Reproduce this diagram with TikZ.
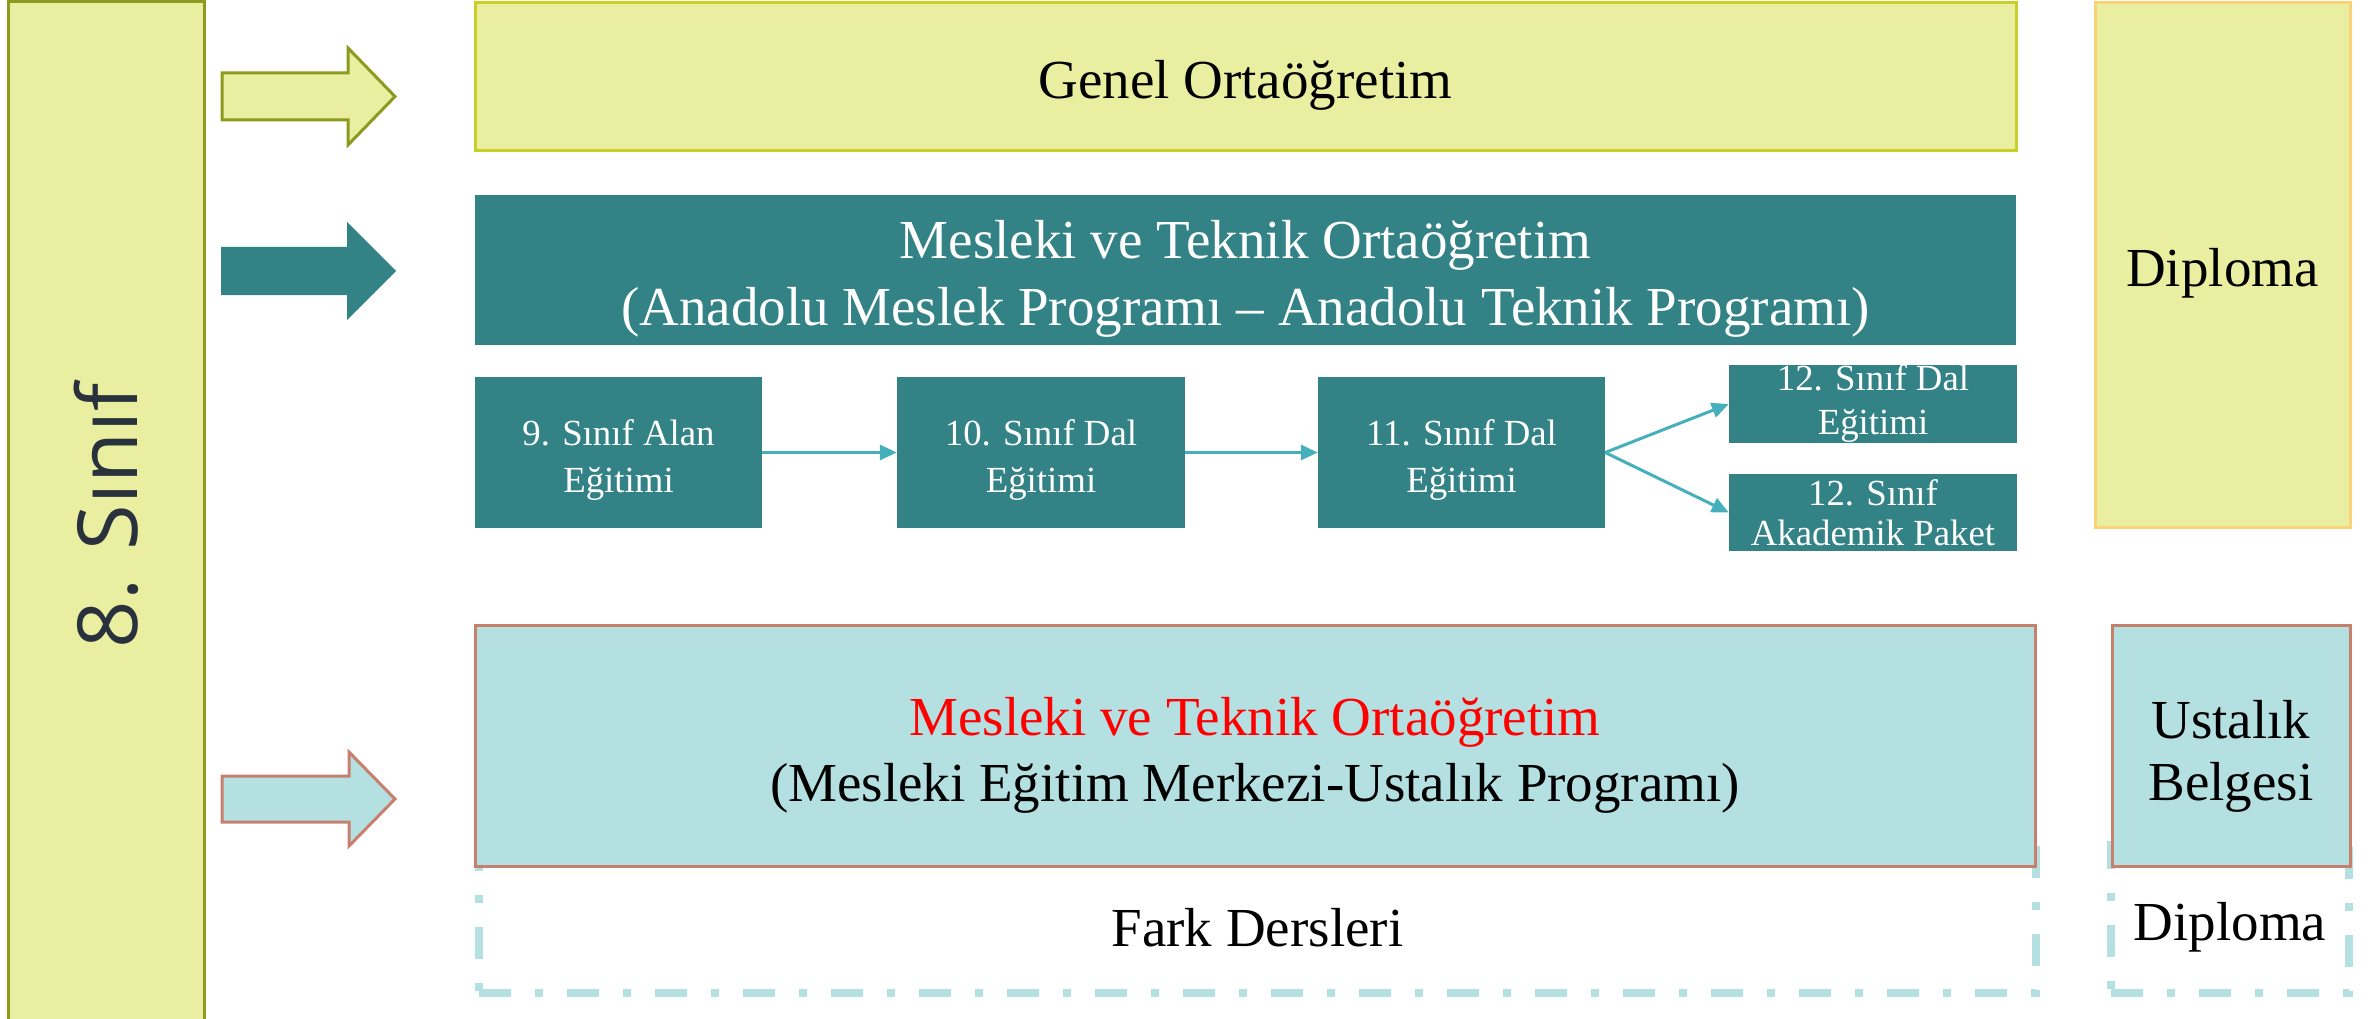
\documentclass[tikz,border=0pt]{standalone}
\usepackage{fontspec}
\setmainfont{Liberation Serif}
\newfontfamily\sinifyazi{Open Sans}
\usepackage{tikz}
\usetikzlibrary{arrows.meta}
\definecolor{sariacik}{RGB}{234,238,161}
\definecolor{zeytin}{RGB}{140,154,30}
\definecolor{sarikenar}{RGB}{200,208,40}
\definecolor{petrol}{RGB}{51,130,134}
\definecolor{maviacik}{RGB}{180,224,226}
\definecolor{somon}{RGB}{200,128,110}
\definecolor{diplomakenar}{RGB}{250,210,120}
\definecolor{okmavi}{RGB}{69,176,187}
\definecolor{koyugri}{RGB}{41,50,60}
% strut that pushes a text block a little down in its box
\newcommand{\asagi}[1]{\rule{0pt}{#1}}

\begin{document}
\begin{tikzpicture}[x=1pt,y=1pt,yscale=-1,xscale=1,
  buyuk/.style={font=\fontsize{55}{67}\selectfont},
  kucuk/.style={font=\fontsize{36.8}{47}\selectfont},
  sarikutu/.style={fill=sariacik,draw=sarikenar,line width=3pt,inner sep=0pt,align=center},
  petrolkutu/.style={fill=petrol,text=white,inner sep=0pt,align=center},
  mavikutu/.style={fill=maviacik,draw=somon,line width=3pt,inner sep=0pt,align=center},
  kesikkutu/.style={draw=maviacik,line width=8pt,dash pattern=on 32pt off 24pt on 8pt off 24pt,inner sep=0pt,align=center},
  akis/.style={draw=okmavi,line width=3pt,-{Triangle[length=17pt,width=15pt]}}]
  \useasboundingbox (0,0) rectangle (2372,1019);

  %Shape: 8. sinif bar
  \node (sinif) at (106,516) [sarikutu,draw=zeytin,rotate=90,minimum width=1028pt,minimum height=196pt,text=koyugri,font=\sinifyazi\fontsize{83}{90}\selectfont] {8. Sınıf};

  %Shape: block arrows
  \draw [fill=sariacik,draw=zeytin,line width=3pt] (222,73) -- (348,73) -- (348,48) -- (395,96.5) -- (348,145) -- (348,120) -- (222,120) -- cycle;
  \fill [petrol] (221,247) -- (347,247) -- (347,222) -- (396,271) -- (347,320) -- (347,295) -- (221,295) -- cycle;
  \draw [fill=maviacik,draw=somon,line width=3pt] (222,776) -- (349,776) -- (349,752) -- (395,799) -- (349,846) -- (349,822) -- (222,822) -- cycle;

  % Rectangles
  \node (genel) at (1245.5,77) [sarikutu,minimum width=1541pt,minimum height=148pt,buyuk] {\asagi{55pt}Genel Ortaöğretim};
  \node (mtok) at (1245.5,270) [petrolkutu,minimum width=1541pt,minimum height=150pt,buyuk] {\asagi{56pt}Mesleki ve Teknik Ortaöğretim\\(Anadolu Meslek Programı – Anadolu Teknik Programı)};
  \node (diploma) at (2222.5,265) [sarikutu,draw=diplomakenar,minimum width=255pt,minimum height=524pt,buyuk] {\asagi{55pt}Diploma};

  \node (alan9) at (618.5,452.5) [petrolkutu,minimum width=287pt,minimum height=151pt,kucuk] {\asagi{41pt}9. Sınıf Alan\\Eğitimi};
  \node (dal10) at (1041,452.5) [petrolkutu,minimum width=288pt,minimum height=151pt,kucuk] {\asagi{41pt}10. Sınıf Dal\\Eğitimi};
  \node (dal11) at (1461.5,452.5) [petrolkutu,minimum width=287pt,minimum height=151pt,kucuk] {\asagi{41pt}11. Sınıf Dal\\Eğitimi};
  \node (dal12) at (1873,404) [petrolkutu,minimum width=288pt,minimum height=78pt,font=\fontsize{36.8}{44}\selectfont] {12. Sınıf Dal\\Eğitimi};
  \node (akad12) at (1873,512.5) [petrolkutu,minimum width=288pt,minimum height=77pt,font=\fontsize{36.8}{40}\selectfont] {12. Sınıf\\Akademik Paket};

  %Straight Lines
  \draw [akis] (alan9) -- (dal10);
  \draw [akis] (dal10) -- (dal11);
  \draw [akis] (dal11.east) -- (dal12.west);
  \draw [akis] (dal11.east) -- (akad12.west);

  % Dashed boxes (under the blue ones)
  \node (fark) at (1257.5,919) [kesikkutu,minimum width=1557pt,minimum height=148pt,buyuk] {\asagi{55pt}Fark Dersleri};
  \node (diploma2) at (2230,919) [kesikkutu,minimum width=238pt,minimum height=148pt,buyuk] {\asagi{55pt}Diploma};

  \node (mem) at (1255,745.5) [mavikutu,minimum width=1560pt,minimum height=241pt,font=\fontsize{55}{66}\selectfont] {\asagi{57pt}\textcolor{red}{Mesleki ve Teknik Ortaöğretim}\\(Mesleki Eğitim Merkezi-Ustalık Programı)};
  \node (ustalik) at (2231,745.5) [mavikutu,minimum width=238pt,minimum height=241pt,font=\fontsize{55}{62}\selectfont] {\asagi{60pt}Ustalık\\Belgesi};
\end{tikzpicture}
\end{document}
